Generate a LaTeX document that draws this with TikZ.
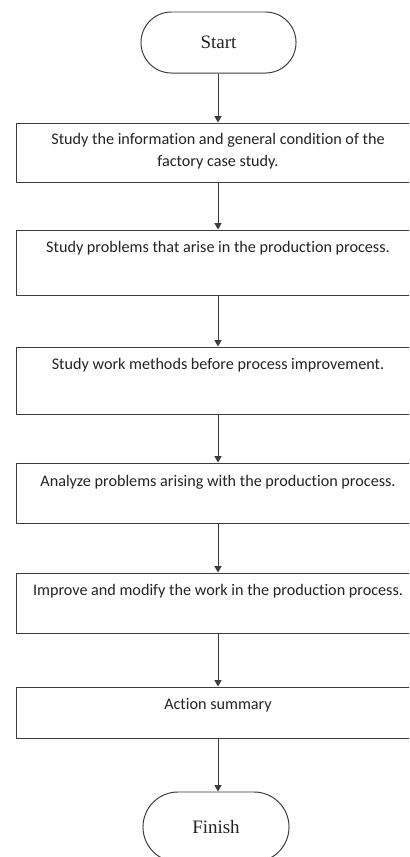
\documentclass[tikz,border=0pt]{standalone}
\usepackage{fontspec}
\setmainfont{Carlito}[Ligatures=NoCommon]
\newfontfamily\termfont{Liberation Serif}
\usetikzlibrary{arrows.meta, shapes.misc, positioning}
\definecolor{linegray}{RGB}{60,60,60}
\definecolor{textgray}{RGB}{35,35,35}

\begin{document}
\begin{tikzpicture}[x=0.025cm, y=-0.025cm,
    stepbox/.style = {draw=linegray, line width=0.7pt, minimum width=10.05cm, inner sep=0pt},
    steptext/.style = {anchor=north, align=center, text=textgray, inner sep=0pt, font=\fontsize{11.5}{15.6}\selectfont},
    terminal/.style = {rounded rectangle, draw=linegray, line width=0.7pt, inner sep=0pt, text=textgray, font=\termfont\fontsize{13.5}{16}\selectfont},
    flow/.style = {draw=linegray, line width=0.7pt, -{Triangle[length=4.5pt, width=5pt]}}]
\useasboundingbox (0,0) rectangle (409,857);
\clip (0,0) rectangle (409,857);

\node[terminal, minimum width=3.875cm, minimum height=1.525cm] (start) at (218.5,42.5) {Start};

\node[stepbox, minimum height=1.475cm] (info) at (218,152.5) {};
\node[steptext, below=0.26cm of info.north] (info_l) {Study the information and general condition of the\\factory case study.};

\node[stepbox, minimum height=1.625cm] (problems) at (218,262.5) {};
\node[steptext, below=0.28cm of problems.north] (problems_l) {Study problems that arise in the production process.};

\node[stepbox, minimum height=1.675cm] (methods) at (218,380.5) {};
\node[steptext, below=0.28cm of methods.north] (methods_l) {Study work methods before process improvement.};

\node[stepbox, minimum height=1.5cm] (analyze) at (218,493) {};
\node[steptext, below=0.3cm of analyze.north] (analyze_l) {Analyze problems arising with the production process.};

\node[stepbox, minimum height=1.5cm] (improve) at (218,603) {};
\node[steptext, below=0.28cm of improve.north] (improve_l) {Improve and modify the work in the production process.};

\node[stepbox, minimum height=1.275cm] (summary) at (218,712.5) {};
\node[steptext, below=0.28cm of summary.north] (summary_l) {Action summary};

\node[terminal, minimum width=3.65cm, minimum height=1.75cm] (finish) at (216,827) {Finish};

\draw[flow] (start.south -| info.north) -- (info.north);
\draw[flow] (info) -- (problems);
\draw[flow] (problems) -- (methods);
\draw[flow] (methods) -- (analyze);
\draw[flow] (analyze) -- (improve);
\draw[flow] (improve) -- (summary);
\draw[flow] (summary.south) -- (summary.south |- finish.north);
\end{tikzpicture}
\end{document}
